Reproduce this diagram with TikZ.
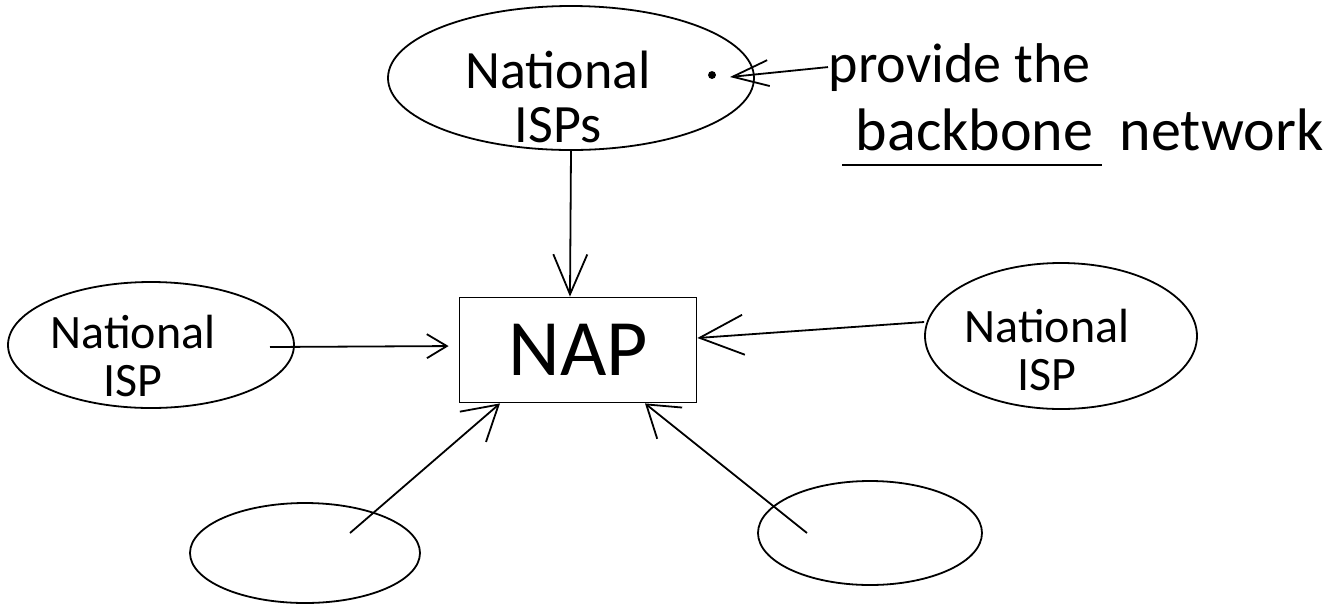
\documentclass[tikz,border=0pt]{standalone}
\usepackage{fontspec}
\setmainfont{Carlito}
\usetikzlibrary{arrows.meta,shapes.geometric,calc}
\begin{document}
\begin{tikzpicture}[x=0.5pt,y=-0.5pt, line width=0.9pt,
  blob/.style={draw, ellipse, inner sep=0pt},
  hand/.style={font=\fontsize{#1}{#1}\selectfont, inner sep=0pt, anchor=base},
  twoline/.style args={#1/#2}{font=\fontsize{#1}{#2}\selectfont, inner sep=0pt, align=center},
  arr/.style args={#1/#2}{-{Straight Barb[length=#1,width=#2]}}]
\useasboundingbox (0,0) rectangle (1341,607);

% top ellipse
\node[blob, minimum width=183pt, minimum height=72pt] (top) at (571,78) {};
\node[twoline=27pt/27pt] (topT) at (558,97) {National\\ISPs};
\node[circle, fill, inner sep=1.4pt] (dot) at (712,75) {};

% annotation
\node[hand=28pt, anchor=base west] (prov) at (828,82) {provide the};
\node[hand=30pt, anchor=base west] (bbone) at (855,150) {backbone};
\node[hand=30pt, anchor=base west] (netw) at (1119,150) {network};
\draw ([xshift=-6.5pt,yshift=-7.5pt]bbone.base west) -- ([xshift=4pt,yshift=-7.5pt]bbone.base east);
\coordinate (annTip) at (730,77);
\draw[arr=18pt/13pt] (prov.west) -- (annTip);

% NAP
\node[draw, minimum width=118.5pt, minimum height=52.5pt, inner sep=0pt,
      font=\fontsize{40pt}{40pt}\selectfont] (nap) at (578,350) {NAP};

% left ellipse
\node[blob, minimum width=143pt, minimum height=63pt] (ispL) at (151,345) {};
\node[twoline=24pt/24pt] (ispLT) at (133,356) {National\\ISP};

% right ellipse
\node[blob, minimum width=136pt, minimum height=73pt] (ispR) at (1061,336) {};
\node[twoline=24pt/24pt] (ispRT) at (1047,350) {National\\ISP};

% bottom ellipses
\node[blob, minimum width=115pt, minimum height=50pt] (bl) at (305,553) {};
\node[blob, minimum width=112pt, minimum height=52pt] (br) at (870,533) {};

% connectors
\draw[arr=20pt/17pt] (top.south) -- ([xshift=-4pt]nap.north);
\draw[arr=10pt/12pt, shorten >=5pt] ([xshift=59.5pt,yshift=-1pt]ispL.center) -- ([yshift=2pt]nap.west);
\draw[arr=22pt/20pt] ([yshift=7pt]ispR.west) -- ([yshift=6pt]nap.east);
\draw[arr=17pt/20pt] ([xshift=22.5pt,yshift=10pt]bl.center) -- ([xshift=-39pt]nap.south);
\draw[arr=15pt/20pt] ([xshift=-31.5pt]br.center) -- ([xshift=33.5pt]nap.south);
\end{tikzpicture}
\end{document}
